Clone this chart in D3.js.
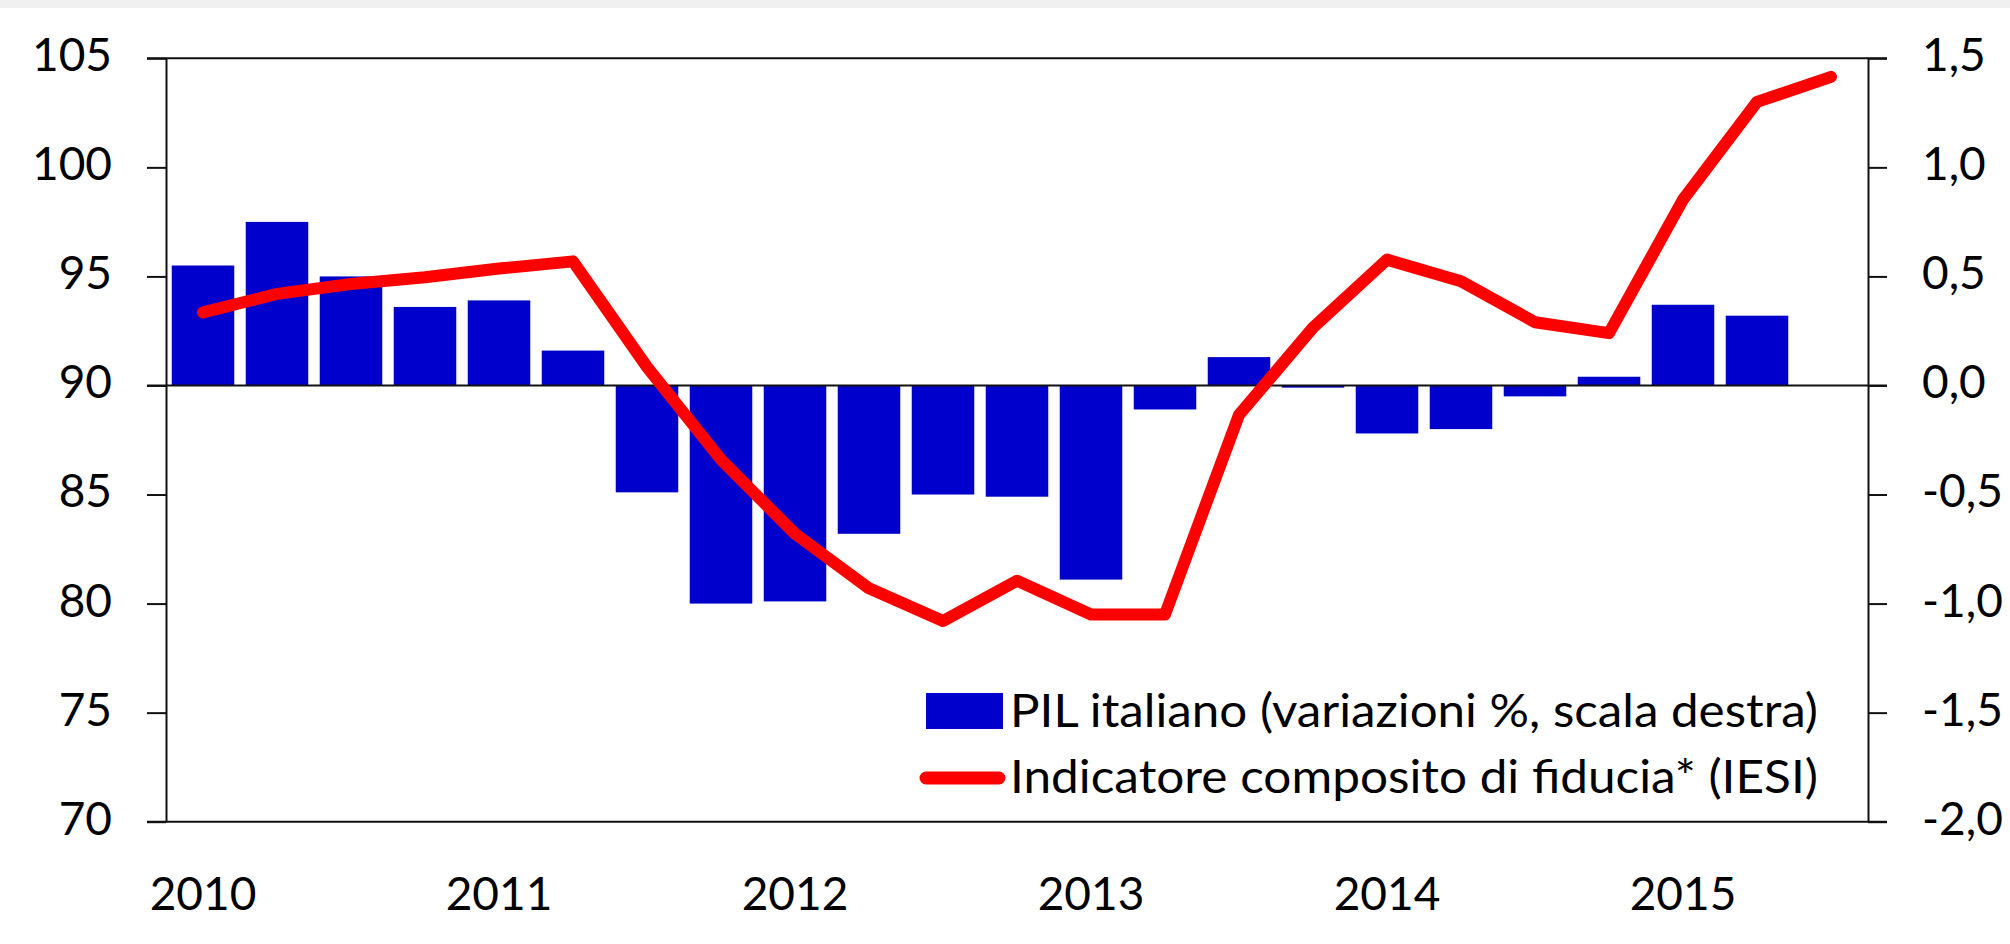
<!DOCTYPE html>
<html>
<head>
<meta charset="utf-8">
<script src="https://cdn.jsdelivr.net/npm/d3@7"></script>
<style>
  body { margin: 0; background: #fff; }
  svg { display: block; font-family: Lato, "Open Sans", sans-serif; }
</style>
</head>
<body>
<div class="chart"></div>
<script>
const width = 2010;
const height = 944;
const margin = { top: 58.3, bottom: 122.3, left: 166, right: 142 };

// quarters 2010Q1 .. 2015Q3 (last one has only the line point)
const quarters = ["2010Q1","2010Q2","2010Q3","2010Q4","2011Q1","2011Q2","2011Q3","2011Q4",
  "2012Q1","2012Q2","2012Q3","2012Q4","2013Q1","2013Q2","2013Q3","2013Q4",
  "2014Q1","2014Q2","2014Q3","2014Q4","2015Q1","2015Q2","2015Q3"];
// PIL italiano, variazioni % (scala destra)
const pil = [0.55, 0.75, 0.5, 0.36, 0.39, 0.16, -0.49, -1.0, -0.99, -0.68, -0.5, -0.51,
  -0.89, -0.11, 0.13, -0.01, -0.22, -0.2, -0.05, 0.04, 0.37, 0.32];
// Indicatore composito di fiducia (IESI), scala sinistra
const iesi = [93.35, 94.2, 94.65, 94.96, 95.36, 95.69, 90.85, 86.6, 83.2, 80.7, 79.2, 81.05,
  79.5, 79.5, 88.65, 92.65, 95.77, 94.78, 92.9, 92.4, 98.52, 103.0, 104.15];
const yearTicks = ["2010Q1","2011Q1","2012Q1","2013Q1","2014Q1","2015Q1"];
const leftTicks = [70, 75, 80, 85, 90, 95, 100, 105];
const rightTicks = [-2.0, -1.5, -1.0, -0.5, 0.0, 0.5, 1.0, 1.5];
const legendLabels = ["PIL italiano (variazioni %, scala destra)",
  "Indicatore composito di fiducia* (IESI)"];

const barColor = "#0000cc";
const lineColor = "#ff0000";
const tickLen = 19;

const x = d3.scaleBand()
    .domain(quarters)
    .range([margin.left, width - margin.right])
    .paddingInner(0.155)
    .paddingOuter(0.0775);

const yLeft = d3.scaleLinear()
    .domain([70, 105])
    .range([height - margin.bottom, margin.top]);

const yRight = d3.scaleLinear()
    .domain([-2, 1.5])
    .range([height - margin.bottom, margin.top]);

const svg = d3.select("div.chart")
    .append("svg")
    .attr("width", width)
    .attr("height", height);

// grey strip at the very top of the screenshot
svg.append("rect")
    .attr("x", 0).attr("y", 0)
    .attr("width", width).attr("height", 8)
    .attr("fill", "#f0f0f0");

// bars
svg.append("g")
    .selectAll("rect")
    .data(pil)
    .join("rect")
    .attr("x", (d, i) => x(quarters[i]))
    .attr("width", x.bandwidth())
    .attr("y", d => yRight(Math.max(0, d)))
    .attr("height", d => Math.abs(yRight(d) - yRight(0)))
    .attr("fill", barColor);

// horizontal frame lines: top, bottom, zero
const x0 = margin.left - tickLen;
const x1 = width - margin.right + tickLen;
svg.append("g")
    .selectAll("line")
    .data([105, 70, 90])
    .join("line")
    .attr("x1", x0).attr("x2", x1)
    .attr("y1", d => yLeft(d)).attr("y2", d => yLeft(d))
    .attr("stroke", "#111")
    .attr("stroke-width", 2);

const fmtComma = d => d.toFixed(1).replace(".", ",");

const leftAxis = svg.append("g")
    .attr("transform", `translate(${margin.left},0)`)
    .call(d3.axisLeft(yLeft).tickValues(leftTicks).tickSize(tickLen).tickSizeOuter(0).tickPadding(35));

const rightAxis = svg.append("g")
    .attr("transform", `translate(${width - margin.right},0)`)
    .call(d3.axisRight(yRight).tickValues(rightTicks).tickFormat(fmtComma)
      .tickSize(tickLen).tickSizeOuter(0).tickPadding(35));

const bottomAxis = svg.append("g")
    .attr("transform", `translate(0,${height - margin.bottom})`)
    .call(d3.axisBottom(x).tickValues(yearTicks).tickFormat(d => d.slice(0, 4))
      .tickSize(0).tickPadding(56));
bottomAxis.select(".domain").remove();

for (const ax of [leftAxis, rightAxis, bottomAxis]) {
  ax.selectAll("path, line").attr("stroke", "#111").attr("stroke-width", 2);
  ax.selectAll("text")
    .attr("font-family", "Lato, 'Open Sans', sans-serif")
    .attr("font-size", 46)
    .attr("fill", "#000");
}
leftAxis.selectAll("text").attr("dy", "0.27em");
rightAxis.selectAll("text").attr("dy", "0.27em");

// IESI line
const line = d3.line()
    .x((d, i) => x(quarters[i]) + x.bandwidth() / 2)
    .y(d => yLeft(d));

svg.append("path")
    .datum(iesi)
    .attr("d", line)
    .attr("fill", "none")
    .attr("stroke", lineColor)
    .attr("stroke-width", 12)
    .attr("stroke-linecap", "round")
    .attr("stroke-linejoin", "round");

// legend
const legend = svg.append("g").attr("transform", "translate(926,0)");
legend.append("rect")
    .attr("x", 0).attr("y", 693)
    .attr("width", 77).attr("height", 36)
    .attr("fill", barColor);
legend.append("line")
    .attr("x1", 0).attr("x2", 73)
    .attr("y1", 778).attr("y2", 778)
    .attr("stroke", lineColor)
    .attr("stroke-width", 13)
    .attr("stroke-linecap", "round");
// text stretched to the width of the original (Calibri is wider here)
legend.selectAll("text")
    .data(legendLabels)
    .join("text")
    .attr("x", 84)
    .attr("y", (d, i) => 727 + i * 66)
    .attr("font-size", 46)
    .attr("fill", "#000")
    .attr("textLength", 808)
    .attr("lengthAdjust", "spacingAndGlyphs")
    .text(d => d);
</script>
</body>
</html>
